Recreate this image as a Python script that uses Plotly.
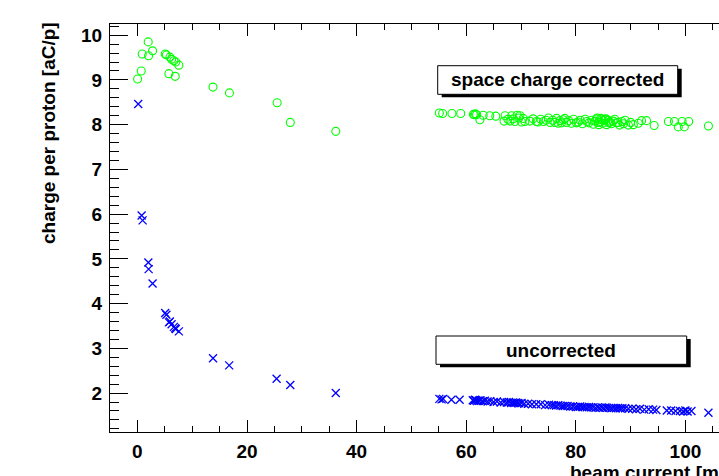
import plotly.graph_objects as go

# ---- data ----
current_corrected = [
    0.04, 0.7, 0.88, 1.97, 2.04, 2.77, 5.07, 5.3, 5.75, 5.93, 6.24, 6.66, 6.9, 7.0, 7.57,
    13.8, 16.8, 25.5, 27.9, 36.2,
    55.1, 55.7, 57.4, 59.0, 61.3, 61.5, 61.7, 61.9, 62.5, 63.1, 64.3, 65.4, 66.9, 67.1,
    67.6, 68.0, 68.3, 68.6, 68.9, 69.3, 69.6, 69.8, 70.1, 70.4, 70.7, 71.6, 72.2, 72.8,
    73.1, 73.6, 74.1, 74.6, 75.0, 75.3, 75.8, 76.2, 76.5, 76.8, 77.1, 77.4, 77.7, 78.0,
    78.3, 78.7, 79.2, 79.6, 80.1, 80.4, 80.8, 81.2, 81.7, 82.0, 82.4, 82.9, 83.2, 83.5,
    83.8, 83.9, 84.1, 84.2, 84.4, 84.6, 84.7, 84.9, 85.1, 85.3, 85.5, 85.6, 85.9, 86.0,
    86.2, 86.5, 86.8, 87.1, 87.4, 87.7, 88.0, 88.4, 88.7, 89.0, 89.6, 90.0, 90.5, 91.4,
    92.0, 92.9, 94.3, 96.9, 98.0, 98.7, 99.4, 99.8, 100.6, 104.2,
]
charge_corrected = [
    9.02, 9.20, 9.58, 9.85, 9.54, 9.65, 9.58, 9.56, 9.14, 9.51, 9.46, 9.43, 9.08, 9.40, 9.33,
    8.84, 8.71, 8.49, 8.05, 7.85,
    8.26, 8.25, 8.25, 8.25, 8.23, 8.22, 8.24, 8.22, 8.11, 8.21, 8.20, 8.19, 8.08, 8.20,
    8.12, 8.08, 8.20, 8.13, 8.07, 8.21, 8.15, 8.20, 8.06, 8.14, 8.07, 8.08, 8.13, 8.07,
    8.06, 8.12, 8.07, 8.10, 8.15, 8.05, 8.10, 8.05, 8.14, 8.03, 8.09, 8.04, 8.11, 8.14,
    8.05, 8.09, 8.03, 8.12, 8.04, 8.06, 8.10, 8.02, 8.12, 8.07, 8.04, 8.10, 8.01, 8.08,
    8.13, 8.15, 8.05, 8.00, 8.06, 8.14, 8.11, 8.03, 8.09, 8.12, 8.13, 8.00, 8.10, 8.04,
    8.06, 8.02, 8.08, 8.12, 8.04, 8.05, 7.99, 8.07, 8.02, 8.10, 7.99, 8.05, 8.00, 8.03,
    8.09, 8.09, 7.98, 8.07, 8.07, 7.95, 8.07, 7.95, 8.07, 7.97,
]
current_uncorrected = [
    0.15, 0.77, 0.95, 2.0, 2.05, 2.77, 5.07, 5.3, 5.75, 5.93, 6.24, 6.66, 6.9, 7.0, 7.57,
    13.8, 16.75, 25.4, 27.9, 36.2,
    55.1, 55.5, 55.8, 57.3, 58.8, 61.2, 61.4, 61.6, 61.8, 62.0, 62.3, 62.6, 63.0, 63.4,
    63.9, 64.4, 65.0, 65.6, 66.3, 66.9, 67.4, 67.8, 68.2, 68.5, 68.8, 69.1, 69.4, 69.7,
    70.1, 70.6, 71.3, 72.0, 72.8, 73.6, 74.4, 75.1, 75.6, 76.0, 76.4, 76.8, 77.2, 77.6,
    78.0, 78.5, 79.0, 79.5, 80.0, 80.4, 80.8, 81.2, 81.6, 82.0, 82.4, 82.8, 83.2, 83.6,
    84.0, 84.3, 84.7, 85.0, 85.4, 85.7, 86.1, 86.5, 86.9, 87.3, 87.7, 88.1, 88.5, 89.0,
    89.6, 90.3, 91.0, 91.7, 92.5, 93.3, 94.1, 94.7, 96.6, 97.4, 98.2, 99.0, 99.6, 100.0,
    100.4, 101.1, 104.2,
]
charge_uncorrected = [
    8.46, 5.97, 5.86, 4.92, 4.77, 4.45, 3.79, 3.75, 3.58, 3.60, 3.54, 3.48, 3.45, 3.43, 3.38,
    2.78, 2.62, 2.32, 2.18, 2.00,
    1.87, 1.86, 1.87, 1.85, 1.85, 1.84, 1.83, 1.85, 1.84, 1.82, 1.83, 1.84, 1.82, 1.83,
    1.81, 1.82, 1.80, 1.81, 1.79, 1.80, 1.79, 1.80, 1.78, 1.79, 1.78, 1.79, 1.78, 1.77,
    1.78, 1.76, 1.76, 1.75, 1.75, 1.75, 1.73, 1.74, 1.73, 1.73, 1.72, 1.73, 1.72, 1.71,
    1.71, 1.71, 1.70, 1.70, 1.69, 1.69, 1.70, 1.69, 1.69, 1.68, 1.69, 1.68, 1.68, 1.67,
    1.68, 1.67, 1.68, 1.67, 1.68, 1.67, 1.67, 1.66, 1.67, 1.66, 1.67, 1.66, 1.66, 1.66,
    1.65, 1.65, 1.64, 1.65, 1.63, 1.64, 1.63, 1.62, 1.61, 1.61, 1.60, 1.60, 1.59, 1.61,
    1.59, 1.60, 1.56,
]

x_tick_values = [0, 20, 40, 60, 80, 100]
y_tick_values = [2, 3, 4, 5, 6, 7, 8, 9, 10]

label_corrected = "space charge corrected"
label_uncorrected = "uncorrected"
x_title = "beam current [mA]"
y_title = "charge per proton [aC/p]"

# ---- layout geometry (pixels) ----
W, H = 719, 476
L, R, T, B = 110, 0, 24, 44
PW, PH = W - L - R, H - T - B


def px(xp):
    return (xp - L) / PW


def py(yp):
    return (H - B - yp) / PH


FONT = "Liberation Sans"

fig = go.Figure()
fig.add_trace(go.Scatter(
    x=current_corrected, y=charge_corrected, mode="markers",
    marker=dict(symbol="circle-open", size=8, color="#00ff00",
                line=dict(width=1.1, color="#00ff00")),
    cliponaxis=True,
))
fig.add_trace(go.Scatter(
    x=current_uncorrected, y=charge_uncorrected, mode="markers",
    marker=dict(symbol="x-thin-open", size=8, color="#0000ff",
                line=dict(width=1.3, color="#0000ff")),
    cliponaxis=True,
))

axis_common = dict(
    showgrid=False, zeroline=False, showline=True, linecolor="#000000", linewidth=1,
    ticks="inside", tickcolor="#000000", tickwidth=1,
    tickfont=dict(family=FONT, size=19, color="#000000", weight="bold"),
)

fig.update_xaxes(
    range=[-5, 106.13], tickmode="array", tickvals=x_tick_values,
    ticktext=[str(v) for v in x_tick_values],
    ticklen=12, mirror="allticks", ticklabelstandoff=2,
    minor=dict(dtick=5, tick0=0, ticklen=6, ticks="inside", tickcolor="#000000"),
    **axis_common,
)
fig.update_yaxes(
    range=[1.13, 10.25], tickmode="array", tickvals=y_tick_values,
    ticktext=[str(v) for v in y_tick_values],
    ticklen=18, mirror=False, ticklabelstandoff=3,
    minor=dict(dtick=0.2, tick0=0, ticklen=9, ticks="inside", tickcolor="#000000"),
    **axis_common,
)

shapes = []
annotations = []


def label_box(x0, y0, x1, y1, text, dx=4, dy=3):
    shapes.append(dict(type="rect", xref="paper", yref="paper",
                       x0=px(x0 + dx), x1=px(x1 + dx), y0=py(y1 + dy), y1=py(y0 + dy),
                       fillcolor="#000000", line=dict(width=0), layer="above"))
    shapes.append(dict(type="rect", xref="paper", yref="paper",
                       x0=px(x0), x1=px(x1), y0=py(y1), y1=py(y0),
                       fillcolor="#ffffff", line=dict(width=1, color="#000000"),
                       layer="above"))
    annotations.append(dict(xref="paper", yref="paper",
                            x=px((x0 + x1) / 2), y=py((y0 + y1) / 2),
                            xanchor="center", yanchor="middle", showarrow=False,
                            text=text,
                            font=dict(family=FONT, size=19, color="#000000", weight="bold")))


label_box(437.7, 65.7, 677.7, 94.3, label_corrected)
label_box(436, 336, 686.7, 364.3, label_uncorrected)

annotations.append(dict(xref="paper", yref="paper", x=px(568), y=py(460),
                        xanchor="left", yanchor="top", showarrow=False, text=x_title,
                        font=dict(family=FONT, size=19, color="#000000", weight="bold")))
annotations.append(dict(xref="paper", yref="paper", x=px(48), y=py(20),
                        xanchor="center", yanchor="top", showarrow=False, text=y_title,
                        textangle=-90,
                        font=dict(family=FONT, size=19, color="#000000", weight="bold")))

fig.update_layout(
    width=W, height=H, margin=dict(l=L, r=R, t=T, b=B, pad=0),
    paper_bgcolor="#ffffff", plot_bgcolor="#ffffff", showlegend=False,
    shapes=shapes, annotations=annotations,
)

fig.write_html("out.html")
